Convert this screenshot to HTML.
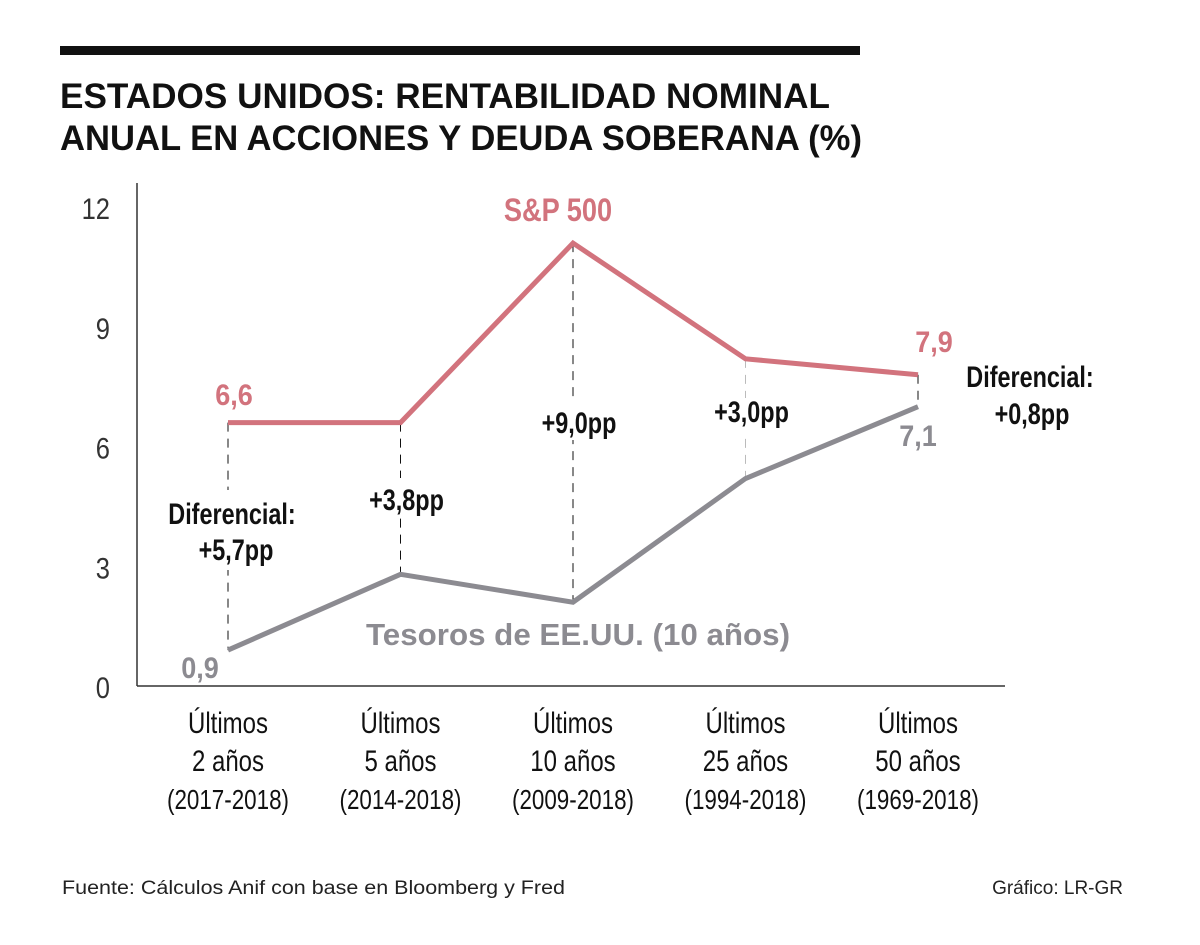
<!DOCTYPE html>
<html><head><meta charset="utf-8"><style>
body{margin:0;background:#fff;}
svg{display:block;font-family:"Liberation Sans",sans-serif;}
</style></head><body>
<svg width="1200" height="945" viewBox="0 0 1200 945">
<rect x="60" y="46" width="800" height="9" fill="#111"/>
<text x="60" y="108" font-size="35" font-weight="bold" fill="#111" textLength="770" lengthAdjust="spacingAndGlyphs">ESTADOS UNIDOS: RENTABILIDAD NOMINAL</text>
<text x="60" y="150" font-size="35" font-weight="bold" fill="#111" textLength="802" lengthAdjust="spacingAndGlyphs">ANUAL EN ACCIONES Y DEUDA SOBERANA (%)</text>
<g id="plot"></g>
<text x="62" y="894" font-size="19" fill="#222" textLength="503" lengthAdjust="spacingAndGlyphs">Fuente: Cálculos Anif con base en Bloomberg y Fred</text>
<text x="1123" y="894" font-size="19" fill="#222" text-anchor="end">Gráfico: LR-GR</text>
</svg>
<script>
const categories=["Últimos|2 años|(2017-2018)","Últimos|5 años|(2014-2018)","Últimos|10 años|(2009-2018)","Últimos|25 años|(1994-2018)","Últimos|50 años|(1969-2018)"];
const sp500=[6.6,6.6,11.1,8.2,7.8];
const treasury=[0.9,2.8,2.1,5.2,7.0];
const yTicks=[0,3,6,9,12];
const spreadLabels=["","+3,8pp","+9,0pp","+3,0pp",""];
const NS="http://www.w3.org/2000/svg";
const g=document.getElementById('plot');
const x=i=>228+i*172.5;
const y=v=>686-v*39.9;
function mk(t,a,txt){const e=document.createElementNS(NS,t);for(const k in a)e.setAttribute(k,a[k]);if(txt!=null)e.textContent=txt;g.appendChild(e);return e;}
function tx(a,txt,s){const X=a.x;const e=mk('text',a,txt);e.setAttribute('transform','translate('+X+',0) scale('+(s||0.8)+',1) translate('+(-X)+',0)');return e;}
let e;
e=mk('line',{x1:137,y1:183,x2:137,y2:686,stroke:'#333','stroke-width':1.5});


e=mk('line',{x1:137,y1:686,x2:1005,y2:686,stroke:'#333','stroke-width':1.5});


yTicks.forEach(v=>{e=tx({x:110,y:y(v)+12,'font-size':30,'text-anchor':'end',fill:'#333'},String(v),0.85);

});
categories.forEach((c,i)=>{c.split('|').forEach((s,j)=>{e=tx({x:x(i),y:733+j*38,'font-size':j<2?30:28,'text-anchor':'middle',fill:'#111'},s,0.8);

});});
sp500.forEach((v,i)=>{e=mk('line',{x1:x(i),y1:y(v),x2:x(i),y2:y(treasury[i]),stroke:i==3?'#bbb':'#111','stroke-width':1,'stroke-dasharray':'9,7'});

});
[[165,490,135,80],[360,478,95,40],[530,400,95,40],[700,398,95,36]].forEach(r=>{mk('rect',{x:r[0],y:r[1],width:r[2],height:r[3],fill:'#fff'});});
const pts=a=>a.map((v,i)=>x(i)+','+y(v)).join(' ');
e=mk('polyline',{points:pts(treasury),fill:'none',stroke:'#8c8b91','stroke-width':5,'stroke-linejoin':'miter'});


e=mk('polyline',{points:pts(sp500),fill:'none',stroke:'#d2737d','stroke-width':5,'stroke-linejoin':'miter'});


spreadLabels.forEach((s,i)=>{if(!s)return;e=tx({x:x(i)+6,y:i==1?510:i==2?433:422,'font-size':30,'font-weight':'bold','text-anchor':'middle',fill:'#111'},s,0.78);

});
e=tx({x:232,y:524,'font-size':30,'font-weight':'bold','text-anchor':'middle',fill:'#111'},'Diferencial:',0.78);


e=tx({x:236,y:560,'font-size':30,'font-weight':'bold','text-anchor':'middle',fill:'#111'},'+5,7pp',0.78);


e=tx({x:1030,y:387,'font-size':30,'font-weight':'bold','text-anchor':'middle',fill:'#111'},'Diferencial:',0.78);


e=tx({x:1032,y:424,'font-size':30,'font-weight':'bold','text-anchor':'middle',fill:'#111'},'+0,8pp',0.78);


e=tx({x:234,y:405,'font-size':30,'font-weight':'bold','text-anchor':'middle',fill:'#d2737d'},'6,6',0.9);


e=tx({x:934,y:352,'font-size':30,'font-weight':'bold','text-anchor':'middle',fill:'#d2737d'},'7,9',0.9);


e=tx({x:558,y:221,'font-size':32,'font-weight':'bold','text-anchor':'middle',fill:'#d2737d'},'S&P 500',0.85);


e=tx({x:200,y:678,'font-size':30,'font-weight':'bold','text-anchor':'middle',fill:'#8c8b91'},'0,9',0.9);


e=tx({x:918,y:446,'font-size':30,'font-weight':'bold','text-anchor':'middle',fill:'#8c8b91'},'7,1',0.9);


e=mk('text',{x:578,y:645,'font-size':31,'font-weight':'bold','text-anchor':'middle',fill:'#8c8b91',textLength:424,lengthAdjust:'spacingAndGlyphs'},'Tesoros de EE.UU. (10 años)');


</script>
</body></html>
